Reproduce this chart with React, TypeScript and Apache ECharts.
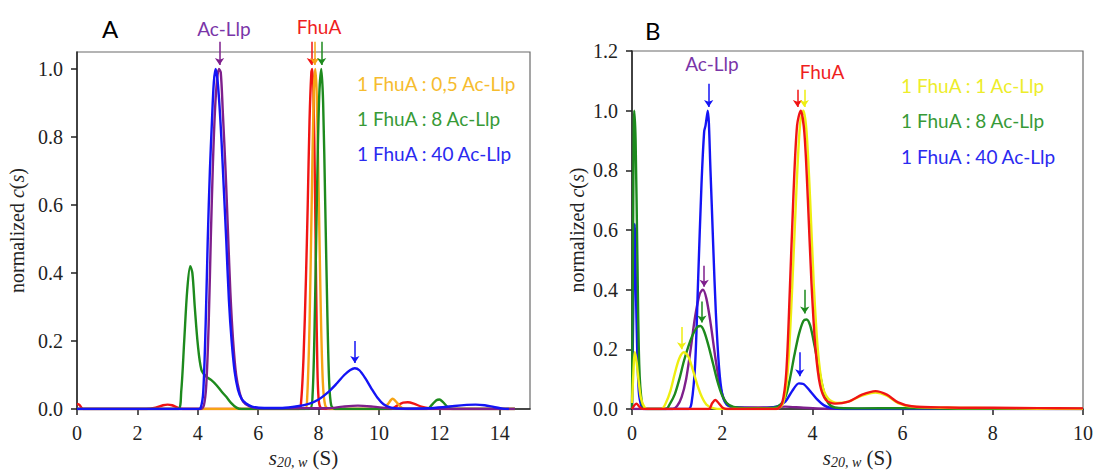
import React, { useEffect, useRef } from 'react';
import * as echarts from 'echarts';

// ---------- Panel A : s20,w (S) vs normalized c(s) ----------
const A_red = [[0,0.015],[0.08,0.012],[0.2,0],[2.3,0],[2.6,0.004],[2.85,0.011],[3.0,0.013],[3.15,0.011],[3.35,0.003],[3.5,0],[7.35,0],[7.42,0.02],[7.5,0.15],[7.58,0.38],[7.64,0.6],[7.7,0.85],[7.76,0.99],[7.79,1.0],[7.83,0.93],[7.88,0.65],[7.92,0.35],[7.96,0.12],[8.0,0.03],[8.06,0.005],[8.2,0],[10.4,0],[10.6,0.01],[10.8,0.019],[10.95,0.02],[11.15,0.016],[11.4,0.007],[11.7,0.002],[12.2,0],[14.5,0]];
const A_orange = [[0,0],[7.55,0],[7.62,0.03],[7.7,0.25],[7.77,0.6],[7.84,0.93],[7.89,1.0],[7.94,0.92],[8.0,0.65],[8.07,0.3],[8.14,0.08],[8.22,0.01],[8.35,0],[10.15,0],[10.3,0.015],[10.45,0.03],[10.6,0.018],[10.75,0.004],[10.9,0],[14.5,0]];
const A_green = [[0,0],[3.35,0],[3.45,0.05],[3.55,0.2],[3.65,0.35],[3.75,0.42],[3.82,0.4],[3.9,0.3],[4.0,0.19],[4.12,0.115],[4.28,0.095],[4.45,0.085],[4.62,0.07],[4.8,0.05],[4.95,0.035],[5.1,0.018],[5.28,0.004],[5.45,0],[7.7,0],[7.8,0.04],[7.88,0.3],[7.95,0.65],[8.02,0.92],[8.09,1.0],[8.15,0.9],[8.22,0.6],[8.29,0.28],[8.35,0.08],[8.42,0.01],[8.55,0],[11.6,0],[11.75,0.012],[11.9,0.026],[12.0,0.028],[12.12,0.02],[12.3,0.004],[12.45,0],[14.5,0]];
const A_purple = [[0,0],[4.1,0],[4.2,0.01],[4.28,0.07],[4.36,0.25],[4.43,0.5],[4.5,0.72],[4.57,0.88],[4.64,0.97],[4.7,1.0],[4.76,0.99],[4.83,0.87],[4.92,0.7],[5.0,0.52],[5.08,0.34],[5.17,0.2],[5.27,0.1],[5.38,0.05],[5.5,0.022],[5.7,0.008],[6.0,0.002],[8.3,0.002],[8.8,0.007],[9.3,0.01],[9.8,0.007],[10.3,0.002],[11,0],[14.5,0]];
const A_blue = [[0,0],[4.0,0],[4.1,0.005],[4.18,0.05],[4.26,0.25],[4.33,0.5],[4.4,0.7],[4.47,0.85],[4.53,0.96],[4.59,1.0],[4.65,0.97],[4.72,0.89],[4.79,0.78],[4.86,0.65],[4.94,0.5],[5.03,0.32],[5.12,0.2],[5.22,0.11],[5.33,0.057],[5.45,0.03],[5.6,0.016],[5.8,0.007],[6.2,0.003],[6.8,0.003],[7.3,0.008],[7.7,0.016],[8.0,0.028],[8.3,0.048],[8.6,0.075],[8.85,0.1],[9.05,0.115],[9.2,0.12],[9.35,0.114],[9.55,0.09],[9.75,0.06],[9.95,0.033],[10.15,0.014],[10.4,0.004],[10.8,0.001],[11.6,0.002],[12.1,0.005],[12.5,0.009],[12.9,0.012],[13.2,0.013],[13.5,0.011],[13.8,0.006],[14.1,0.001],[14.3,0]];

// arrows: [s, c start, c end]
const A_purple_arrows = [[4.72, 1.08, 1.012]];
const A_red_arrows = [[7.76, 1.08, 1.012]];
const A_orange_arrows = [[7.87, 1.08, 1.012]];
const A_green_arrows = [[8.1, 1.08, 1.012]];
const A_blue_arrows = [[9.2, 0.2, 0.135]];

const A_xTicks = [0, 2, 4, 6, 8, 10, 12, 14];
const A_yTicks = [0, 0.2, 0.4, 0.6, 0.8, 1.0];

// ---------- Panel B ----------
const B_purple = [[0,0],[0.9,0],[1.0,0.01],[1.1,0.04],[1.2,0.1],[1.3,0.2],[1.4,0.31],[1.5,0.385],[1.57,0.4],[1.65,0.37],[1.75,0.28],[1.85,0.17],[1.95,0.08],[2.05,0.03],[2.15,0.012],[2.3,0.005],[3.0,0.005],[3.4,0.008],[3.8,0.004],[4.5,0],[10,0]];
const B_blue = [[0,0],[0.03,0.35],[0.06,0.62],[0.1,0.3],[0.15,0.06],[0.22,0.005],[0.3,0],[1.25,0],[1.32,0.02],[1.4,0.15],[1.47,0.45],[1.54,0.75],[1.6,0.93],[1.63,0.95],[1.68,1.0],[1.74,0.8],[1.8,0.55],[1.86,0.32],[1.93,0.14],[2.0,0.05],[2.1,0.015],[2.3,0.005],[2.8,0.003],[3.2,0.008],[3.4,0.025],[3.55,0.06],[3.7,0.086],[3.8,0.084],[3.95,0.06],[4.1,0.033],[4.25,0.013],[4.4,0.004],[4.7,0],[10,0]];
const B_green = [[0,0],[0.02,0.5],[0.05,1.0],[0.08,0.9],[0.12,0.5],[0.16,0.15],[0.22,0.02],[0.3,0],[0.75,0],[0.85,0.02],[0.95,0.05],[1.05,0.1],[1.15,0.16],[1.25,0.21],[1.35,0.25],[1.45,0.275],[1.52,0.278],[1.6,0.26],[1.7,0.21],[1.8,0.15],[1.9,0.09],[2.0,0.045],[2.1,0.02],[2.25,0.007],[2.5,0.003],[3.0,0.003],[3.25,0.01],[3.4,0.04],[3.5,0.1],[3.6,0.18],[3.7,0.25],[3.8,0.295],[3.87,0.3],[3.95,0.28],[4.05,0.21],[4.15,0.13],[4.25,0.06],[4.35,0.02],[4.5,0.005],[5,0.002],[6,0.003],[7,0.001],[10,0]];
const B_yellow = [[0,0.02],[0.03,0.12],[0.06,0.19],[0.1,0.16],[0.15,0.09],[0.2,0.035],[0.28,0.005],[0.35,0],[0.65,0],[0.75,0.02],[0.85,0.06],[0.95,0.12],[1.05,0.17],[1.15,0.19],[1.25,0.175],[1.35,0.13],[1.45,0.08],[1.55,0.04],[1.65,0.015],[1.8,0.003],[2.0,0],[3.2,0],[3.35,0.02],[3.45,0.12],[3.55,0.4],[3.65,0.75],[3.73,0.96],[3.8,1.0],[3.87,0.93],[3.95,0.7],[4.03,0.42],[4.12,0.2],[4.22,0.08],[4.35,0.035],[4.55,0.02],[4.8,0.025],[5.1,0.045],[5.4,0.055],[5.65,0.045],[5.9,0.02],[6.2,0.008],[7,0.004],[8,0.003],[9,0.001],[10,0]];
const B_red = [[0,0],[0.05,0.012],[0.1,0.018],[0.16,0.008],[0.25,0],[1.7,0],[1.78,0.02],[1.85,0.03],[1.93,0.018],[2.02,0.003],[2.1,0],[3.2,0],[3.33,0.02],[3.42,0.12],[3.5,0.4],[3.58,0.72],[3.66,0.95],[3.74,1.0],[3.82,0.93],[3.9,0.7],[3.98,0.42],[4.07,0.2],[4.17,0.08],[4.3,0.03],[4.5,0.018],[4.8,0.025],[5.1,0.048],[5.4,0.06],[5.65,0.048],[5.9,0.022],[6.2,0.009],[7,0.005],[8,0.004],[9,0.003],[10,0.002]];

const B_blue_arrows = [[1.7, 1.09, 1.012], [3.72, 0.19, 0.11]];
const B_red_arrows = [[3.67, 1.07, 1.012]];
const B_yellow_arrows = [[3.82, 1.07, 1.012], [1.1, 0.275, 0.2]];
const B_purple_arrows = [[1.6, 0.48, 0.41]];
const B_green_arrows = [[1.55, 0.36, 0.29], [3.83, 0.4, 0.32]];

const B_xTicks = [0, 2, 4, 6, 8, 10];
const B_yTicks = [0, 0.2, 0.4, 0.6, 0.8, 1.0, 1.2];

// texts
const A_legend = ['1 FhuA : 0,5 Ac-Llp', '1 FhuA : 8 Ac-Llp', '1 FhuA : 40 Ac-Llp'];
const B_legend = ['1 FhuA : 1 Ac-Llp', '1 FhuA : 8 Ac-Llp', '1 FhuA : 40 Ac-Llp'];

const C = {
  red: '#f01414',
  orange: '#f6a414',
  green: '#1d8a1d',
  purple: '#7e1f8c',
  blue: '#1414f5',
  yellow: '#eeee10',
};
const TXT = {
  purple: '#7a35a8',
  red: '#ef1e1e',
  orange: '#f6bc2e',
  green: '#379a37',
  blue: '#2a2af0',
  yellow: '#eded2a',
};

const SERIF = '"Liberation Serif", "DejaVu Serif", serif';
const SANS = 'Lato, "Open Sans", sans-serif';

export default function App() {
  const ref = useRef<HTMLDivElement>(null);
  useEffect(() => {
    const chart = echarts.init(ref.current!, null, { renderer: 'svg' });

    const line = (data: number[][], color: string, i: number, z: number) => ({
      type: 'line', xAxisIndex: i, yAxisIndex: i, data, showSymbol: false, symbol: 'none',
      smooth: 0.3, lineStyle: { color, width: 2.4 }, itemStyle: { color }, silent: true, z,
    });
    const arrows = (list: number[][], color: string, i: number) => ({
      type: 'lines', coordinateSystem: 'cartesian2d', xAxisIndex: i, yAxisIndex: i, clip: false,
      symbol: ['none', 'arrow'], symbolSize: 7, silent: true, z: 10,
      lineStyle: { color, width: 1.5, opacity: 1, curveness: 0 },
      itemStyle: { color },
      data: list.map(([x, y1, y2]) => ({ coords: [[x, y1], [x, y2]] })),
    });

    const NF = 21;
    const xName = '{i|s}{sub|20, w}{n| (S)}';
    const xNameStyle = {
      fontFamily: SERIF, fontSize: NF, color: '#222',
      rich: {
        i: { fontFamily: SERIF, fontStyle: 'italic', fontSize: NF, color: '#222', verticalAlign: 'middle', lineHeight: 22 },
        sub: { fontFamily: SERIF, fontStyle: 'italic', fontSize: 14, color: '#222', verticalAlign: 'bottom', lineHeight: 22 },
        n: { fontFamily: SERIF, fontSize: NF, color: '#222', verticalAlign: 'middle', lineHeight: 22 },
      },
    };
    const YF = 20;
    const yName = '{n|normalized }{i|c}{n|(}{i|s}{n|)}';
    const yNameStyle = {
      fontFamily: SERIF, fontSize: YF, color: '#222',
      rich: {
        i: { fontFamily: SERIF, fontStyle: 'italic', fontSize: YF, color: '#222' },
        n: { fontFamily: SERIF, fontSize: YF, color: '#222' },
      },
    };
    const axisCommon = {
      type: 'value',
      axisLine: { show: true, onZero: false, lineStyle: { color: '#222', width: 1.5 } },
      axisTick: { show: true, length: 6, lineStyle: { color: '#222', width: 1.5 } },
      splitLine: { show: false },
      nameLocation: 'middle',
      nameTextStyle: xNameStyle,
    };
    const labelStyle = { fontFamily: SERIF, fontSize: 20, color: '#222' };

    const text = (t: string, x: number, y: number, color: string, size: number, align = 'left') => ({
      type: 'text', x, y,
      style: { text: t, fill: color, font: `${size}px ${SANS}`, textAlign: align, textVerticalAlign: 'middle' },
    });

    chart.setOption({
      animation: false,
      backgroundColor: '#fff',
      grid: [
        { left: 77, top: 52, width: 453, height: 357, show: true, borderColor: '#6a6a6a', borderWidth: 1.2, containLabel: false, outerBoundsMode: 'none' },
        { left: 632, top: 51, width: 451, height: 358, show: true, borderColor: '#6a6a6a', borderWidth: 1.2, containLabel: false, outerBoundsMode: 'none' },
      ],
      xAxis: [
        {
          ...axisCommon, gridIndex: 0, min: 0, max: 15,
          axisTick: { ...axisCommon.axisTick, customValues: A_xTicks },
          axisLabel: { ...labelStyle, margin: 14, customValues: A_xTicks },
          name: xName, nameGap: 37, nameTextStyle: xNameStyle,
        },
        {
          ...axisCommon, gridIndex: 1, min: 0, max: 10,
          axisTick: { ...axisCommon.axisTick, customValues: B_xTicks },
          axisLabel: { ...labelStyle, margin: 14, customValues: B_xTicks },
          name: xName, nameGap: 37, nameTextStyle: xNameStyle,
        },
      ],
      yAxis: [
        {
          ...axisCommon, gridIndex: 0, min: 0, max: 1.05,
          axisTick: { ...axisCommon.axisTick, customValues: A_yTicks },
          axisLabel: { ...labelStyle, margin: 14, customValues: A_yTicks, formatter: (v: number) => v.toFixed(1) },
          name: yName, nameGap: 50, nameTextStyle: yNameStyle,
        },
        {
          ...axisCommon, gridIndex: 1, min: 0, max: 1.2,
          axisTick: { ...axisCommon.axisTick, customValues: B_yTicks },
          axisLabel: { ...labelStyle, margin: 14, customValues: B_yTicks, formatter: (v: number) => v.toFixed(1) },
          name: yName, nameGap: 45, nameTextStyle: yNameStyle,
        },
      ],
      series: [
        line(A_red, C.red, 0, 2),
        line(A_orange, C.orange, 0, 3),
        line(A_green, C.green, 0, 4),
        line(A_purple, C.purple, 0, 5),
        line(A_blue, C.blue, 0, 6),
        arrows(A_purple_arrows, C.purple, 0),
        arrows(A_red_arrows, C.red, 0),
        arrows(A_orange_arrows, C.orange, 0),
        arrows(A_green_arrows, C.green, 0),
        arrows(A_blue_arrows, C.blue, 0),

        line(B_purple, C.purple, 1, 2),
        line(B_blue, C.blue, 1, 3),
        line(B_green, C.green, 1, 4),
        line(B_yellow, C.yellow, 1, 5),
        line(B_red, C.red, 1, 6),
        arrows(B_blue_arrows, C.blue, 1),
        arrows(B_red_arrows, C.red, 1),
        arrows(B_yellow_arrows, C.yellow, 1),
        arrows(B_purple_arrows, C.purple, 1),
        arrows(B_green_arrows, C.green, 1),
      ],
      graphic: [
        text('A', 102, 28, '#000', 24),
        text('Ac-Llp', 224, 28, TXT.purple, 19, 'center'),
        text('FhuA', 319, 26, TXT.red, 19, 'center'),
        text(A_legend[0], 357, 83, TXT.orange, 19),
        text(A_legend[1], 357, 118, TXT.green, 19),
        text(A_legend[2], 357, 153, TXT.blue, 19),
        text('B', 645, 30, '#000', 24),
        text('Ac-Llp', 712, 63, TXT.purple, 19, 'center'),
        text('FhuA', 822, 71, TXT.red, 19, 'center'),
        text(B_legend[0], 901, 85, TXT.yellow, 19),
        text(B_legend[1], 901, 120, TXT.green, 19),
        text(B_legend[2], 901, 156, TXT.blue, 19),
      ],
    });
    return () => chart.dispose();
  }, []);
  return (
    <div
      ref={ref}
      style={{ position: 'fixed', left: 0, top: 0, width: 1094, height: 473, background: '#fff' }}
    />
  );
}
